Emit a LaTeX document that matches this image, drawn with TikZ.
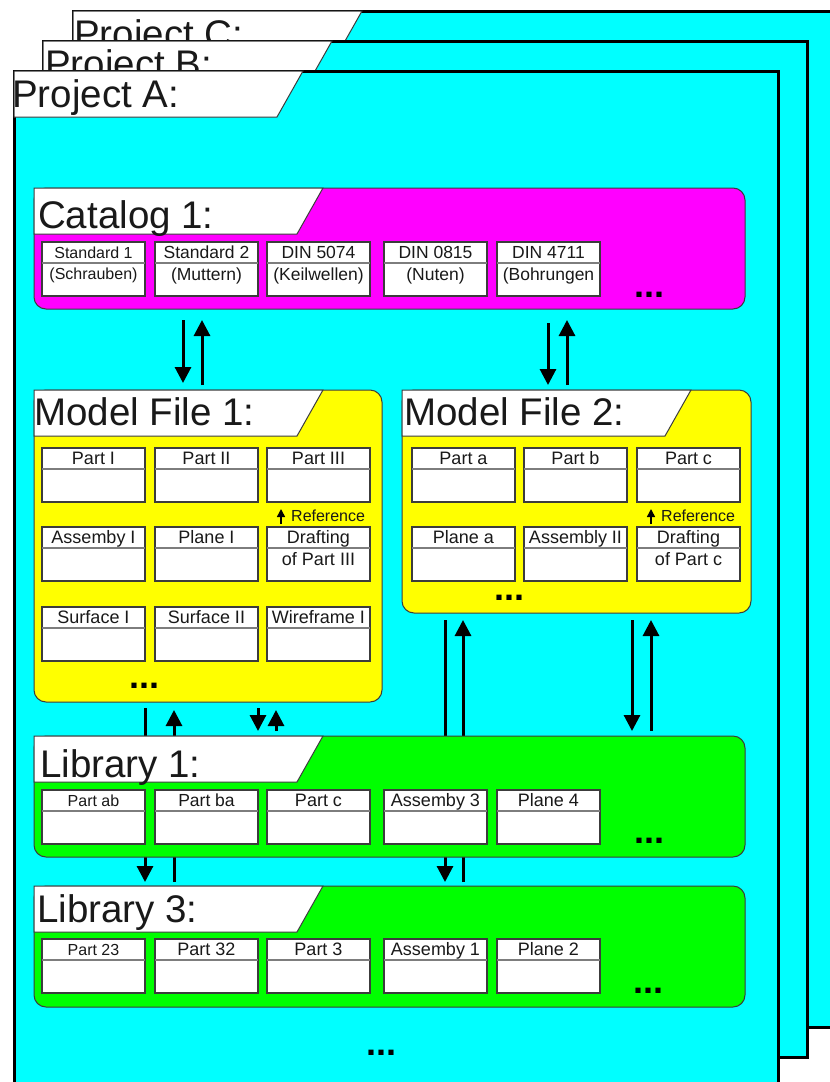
\documentclass[tikz,border=0pt]{standalone}
\usepackage{fontspec}
\setmainfont{Liberation Sans}
\usetikzlibrary{arrows.meta}
\definecolor{cy}{RGB}{0,255,255}
\definecolor{mg}{RGB}{255,0,255}
\definecolor{yl}{RGB}{255,255,0}
\definecolor{gr}{RGB}{0,255,0}
\definecolor{edgec}{RGB}{60,60,60}
\definecolor{divc}{RGB}{125,125,125}
\definecolor{txt}{RGB}{25,25,25}
\pgfdeclarelayer{frames}
\pgfdeclarelayer{links}
\pgfsetlayers{frames,links,main}
\newcommand\fsz[1]{\fontsize{#1}{#1}\selectfont}
\tikzset{
 projframe/.style={draw=black, line width=3pt, fill=cy, anchor=north west, inner sep=0pt, outer sep=0pt, minimum width=764pt, minimum height=1016pt},
 cont/.style={draw=edgec, line width=1pt, rounded corners=12pt, anchor=north west, inner sep=0pt, outer sep=0pt},
 hdr/.style={draw=edgec, line width=1pt, fill=white},
 ttl/.style={font=\fsz{38.5}, inner sep=0pt, anchor=base west, text=txt},
 ibox/.style={draw=edgec, line width=1.3pt, fill=white, anchor=north west, inner sep=0pt, outer sep=0pt, minimum width=103pt, minimum height=54pt},
 idiv/.style={draw=divc, line width=1.3pt},
 lbl/.style={inner sep=0pt, anchor=base, text=txt},
 arr/.style={line width=3pt, -{Triangle[width=16pt,length=16pt]}},
 dots/.style={font=\fsz{36}\bfseries, inner sep=0pt, anchor=base west},
 refarr/.style={line width=1.5pt, -{Triangle[width=8pt,length=8pt]}},
}
% header tab: node, name, text, x offset, baseline offset
\newcommand\header[5]{%
 \draw[hdr] (#1.north west) -- ++(289,0) -- ++(-26,46) -- ++(-263,0) -- cycle;
 \node[ttl] (#2) at ([xshift=#4pt,yshift=-#5pt]#1.north west) {#3};
}
% item box: name, x, y, font size, title, second line
\newcommand\ibox[6]{%
 \node[ibox] (#1) at (#2,#3) {};
 \draw[idiv] ([yshift=-21pt]#1.north west) -- ([yshift=-21pt]#1.north east);
 \node[lbl, font=\fsz{#4}] (#1t) at ([yshift={-(10.5+0.358*#4)*1pt}]#1.north) {#5};
 \node[lbl, font=\fsz{#4}] (#1s) at ([yshift={-(25+0.75*#4)*1pt}]#1.north) {#6};
}
\begin{document}
\begin{tikzpicture}[x=1pt,y=-1pt]
\useasboundingbox (0,0) rectangle (830,1082);

\begin{pgfonlayer}{frames}
\fill[white] (0,0) rectangle (830,1082);
\node[projframe] (pC) at (73,11) {};
\header{pC}{pCt}{Project C:}{1}{36}
\node[projframe] (pB) at (43,41) {};
\header{pB}{pBt}{Project B:}{2}{36}
\node[projframe, minimum height=1040pt] (pA) at (14,71) {};
\header{pA}{pAt}{Project A:}{-2}{36}
\end{pgfonlayer}

% Catalog 1
\node[cont, fill=mg, minimum width=711pt, minimum height=121pt] (cat1) at (34,188) {};
\header{cat1}{cat1t}{Catalog 1:}{4}{40}
\ibox{ca}{42}{242}{16}{Standard 1}{(Schrauben)}
\ibox{cb}{155}{242}{17.5}{Standard 2}{(Muttern)}
\ibox{cc}{267}{242}{17.5}{DIN 5074}{(Keilwellen)}
\ibox{cd}{384}{242}{17.5}{DIN 0815}{(Nuten)}
\ibox{ce}{497}{242}{17.5}{DIN 4711}{(Bohrungen}
\node[dots] (catdots) at (634,297) {...};

% Model File 1
\node[cont, fill=yl, minimum width=348pt, minimum height=312pt] (mf1) at (34,390) {};
\header{mf1}{mf1t}{Model File 1:}{0}{35}
\ibox{ma}{42}{448}{18}{Part I}{}
\ibox{mb}{155}{448}{18}{Part II}{}
\ibox{mc}{267}{448}{18}{Part III}{}
\ibox{md}{42}{527}{18}{Assemby I}{}
\ibox{me}{155}{527}{18}{Plane I}{}
\ibox{mf}{267}{527}{18}{Drafting}{of Part III}
\ibox{mg}{42}{607}{18}{Surface I}{}
\ibox{mh}{155}{607}{18}{Surface II}{}
\ibox{mi}{267}{607}{18}{Wireframe I}{}
\draw[refarr] ([xshift=14pt,yshift=3pt]mf.north west) -- ([xshift=14pt,yshift=-7pt]mc.south west);
\node[lbl, font=\fsz{16}, anchor=base west] (ref1) at ([xshift=24pt,yshift=-19pt]mc.south west) {Reference};
\node[dots] (mf1dots) at (129,688) {...};

% Model File 2
\node[cont, fill=yl, minimum width=349pt, minimum height=223pt] (mf2) at (402,390) {};
\header{mf2}{mf2t}{Model File 2:}{2}{35}
\ibox{na}{412}{448}{18}{Part a}{}
\ibox{nb}{524}{448}{18}{Part b}{}
\ibox{nc}{637}{448}{18}{Part c}{}
\ibox{nd}{412}{527}{18}{Plane a}{}
\ibox{ne}{524}{527}{18}{Assembly II}{}
\ibox{nf}{637}{527}{18}{Drafting}{of Part c}
\draw[refarr] ([xshift=14pt,yshift=3pt]nf.north west) -- ([xshift=14pt,yshift=-7pt]nc.south west);
\node[lbl, font=\fsz{16}, anchor=base west] (ref2) at ([xshift=24pt,yshift=-19pt]nc.south west) {Reference};
\node[dots] (mf2dots) at (494,600) {...};

% Library 1
\node[cont, fill=gr, minimum width=711pt, minimum height=121pt] (lib1) at (34,736) {};
\header{lib1}{lib1t}{Library 1:}{6}{41}
\ibox{la}{42}{790}{16}{Part ab}{}
\ibox{lb}{155}{790}{17.5}{Part ba}{}
\ibox{lc}{267}{790}{18}{Part c}{}
\ibox{ld}{384}{790}{18}{Assemby 3}{}
\ibox{le}{497}{790}{18}{Plane 4}{}
\node[dots] (lib1dots) at (634,843) {...};

% Library 3
\node[cont, fill=gr, minimum width=711pt, minimum height=121pt] (lib3) at (34,886) {};
\header{lib3}{lib3t}{Library 3:}{3}{36}
\ibox{ka}{42}{939}{16}{Part 23}{}
\ibox{kb}{155}{939}{18}{Part 32}{}
\ibox{kc}{267}{939}{18}{Part 3}{}
\ibox{kd}{384}{939}{18}{Assemby 1}{}
\ibox{ke}{497}{939}{18}{Plane 2}{}
\node[dots] (lib3dots) at (633,993) {...};

\node[dots] (enddots) at (366,1055) {...};

\begin{pgfonlayer}{links}
% Catalog <-> Model File 1
\draw[arr] ([xshift=149pt,yshift=-11pt]cat1.south west) -- ([xshift=149pt,yshift=7pt]mf1.north west);
\draw[arr] ([xshift=168pt,yshift=5pt]mf1.north west) -- ([xshift=168pt,yshift=-11pt]cat1.south west);
% Catalog <-> Model File 2
\draw[arr] ([xshift=514pt,yshift=-14pt]cat1.south west) -- ([xshift=146pt,yshift=5pt]mf2.north west);
\draw[arr] ([xshift=165pt,yshift=5pt]mf2.north west) -- ([xshift=533pt,yshift=-11pt]cat1.south west);
% Model File 1 <-> Library 3 (behind Library 1)
\draw[arr] ([xshift=111pt,yshift=-6pt]mf1.south west) -- ([xshift=111pt,yshift=4pt]lib3.north west);
\draw[arr] ([xshift=140pt,yshift=4pt]lib3.north west) -- ([xshift=140pt,yshift=-8pt]mf1.south west);
% Model File 1 <-> Library 1
\draw[arr] ([xshift=224pt,yshift=-6pt]mf1.south west) -- ([xshift=224pt,yshift=5pt]lib1.north west);
\draw[arr] ([xshift=242pt,yshift=5pt]lib1.north west) -- ([xshift=242pt,yshift=-8pt]mf1.south west);
% Model File 2 <-> Library 3 (behind Library 1)
\draw[arr] ([xshift=43pt,yshift=-7pt]mf2.south west) -- ([xshift=411pt,yshift=4pt]lib3.north west);
\draw[arr] ([xshift=429pt,yshift=4pt]lib3.north west) -- ([xshift=61pt,yshift=-7pt]mf2.south west);
% Model File 2 <-> Library 1
\draw[arr] ([xshift=230pt,yshift=-7pt]mf2.south west) -- ([xshift=598pt,yshift=5pt]lib1.north west);
\draw[arr] ([xshift=617pt,yshift=5pt]lib1.north west) -- ([xshift=249pt,yshift=-7pt]mf2.south west);
\end{pgfonlayer}
\end{tikzpicture}
\end{document}
